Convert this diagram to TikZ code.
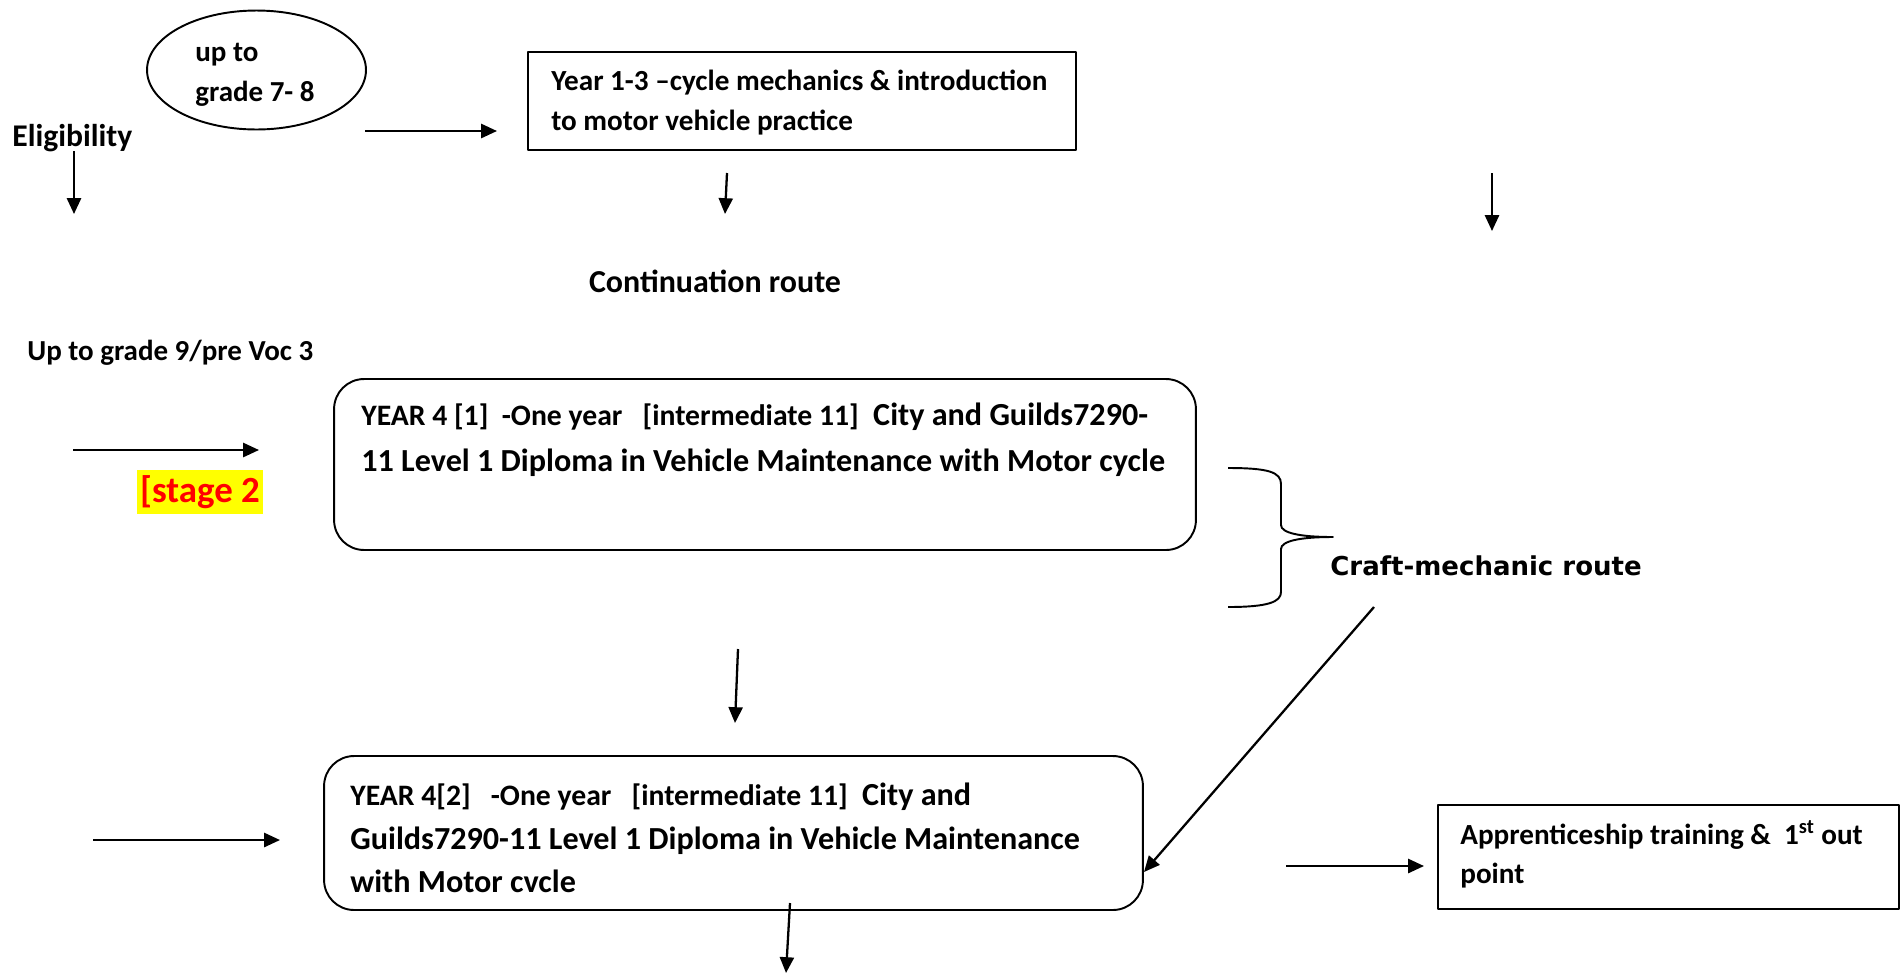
\documentclass[tikz,border=0pt]{standalone}
\usepackage{fontspec}
\setmainfont{Carlito}
\newfontfamily\blackfont{DejaVu Sans}
\usepackage{xcolor}
\usepackage{tikz}
\usetikzlibrary{arrows.meta,shapes.geometric}
\definecolor{ink}{HTML}{000000}
\definecolor{hilite}{HTML}{FFFF00}
\definecolor{alert}{HTML}{FF0000}
\tikzset{
  base/.style={draw=ink, line width=1.1pt, line join=round},
  arr/.style={draw=ink, line width=1.3pt, -{Triangle[length=9pt,width=8pt]}},
  box/.style={base, rectangle, inner sep=0pt},
  rbox/.style={box, rounded corners=0.6cm},
  oval/.style={base, ellipse, inner sep=0pt},
  lab/.style={text=ink, inner sep=0pt, align=left, font=\bfseries\fontsize{16.5}{23}\selectfont},
  tag/.style={fill=hilite, text=alert, inner xsep=2pt, inner ysep=3pt, font=\bfseries\fontsize{21}{24}\selectfont},
  route/.style={text=ink, inner sep=0pt, font=\blackfont\bfseries\fontsize{14.8}{17}\selectfont},
}
\newcommand{\hdr}[1]{{\fontsize{16.9}{26}\selectfont #1}}

\begin{document}
\begin{tikzpicture}[x=0.02cm, y=-0.02cm]
  \useasboundingbox (0,0) rectangle (1900,975);
  \node[oval, minimum width=4.38cm, minimum height=2.38cm] (grade78) at (256.5,70) {};
  \node[lab, anchor=west] (grade78t) at (195,75) {up to\\grade 7- 8};
  \node[lab, anchor=west, font=\bfseries\fontsize{18}{20}\selectfont] (elig) at (12,138) {Eligibility};
  \node[box, minimum width=10.96cm, minimum height=1.96cm] (year13) at (802,101) {};
  \node[lab, anchor=west, font=\bfseries\fontsize{16.6}{22.8}\selectfont] (year13t) at (551,103)
    {Year 1-3 –cycle mechanics \& introduction\\to motor vehicle practice};
  \node[lab, font=\bfseries\fontsize{18.2}{20}\selectfont] (contin) at (715,281) {Continuation route};
  \node[lab, anchor=west] (grade9) at (27,353) {Up to grade 9/pre Voc 3};
  \node[tag] (stage2) at (200,492) {[stage 2};
  \node[rbox, minimum width=17.24cm, minimum height=3.42cm] (year41) at (765,464.5) {};
  \node[lab, anchor=west, font=\bfseries\fontsize{18.3}{26}\selectfont] (year41t) at (361,440)
    {\hdr{YEAR 4 [1]\ \ -One year\ \ \ [intermediate 11]}\ \ City and Guilds7290-\\11 Level 1 Diploma in Vehicle Maintenance with Motor cycle};
  \node[route, anchor=west] (craft) at (1330,566) {Craft-mechanic route};
  \node[rbox, minimum width=16.38cm, minimum height=3.08cm] (year42) at (733.5,833) {};
  \node[lab, anchor=west, font=\bfseries\fontsize{18.3}{24.8}\selectfont] (year42t) at (350,838)
    {\hdr{YEAR 4[2]\ \ \ -One year\ \ \ [intermediate 11]}\ \ City and\\Guilds7290-11 Level 1 Diploma in Vehicle Maintenance\\with Motor cvcle};
  \node[box, minimum width=9.22cm, minimum height=2.08cm] (appr) at (1668.5,857) {};
  \node[lab, anchor=west, font=\bfseries\fontsize{16.6}{22}\selectfont] (apprt) at (1460,854.5)
    {Apprenticeship training \&\ \ 1\textsuperscript{st} out\\point};
  \coordinate (eligTop) at (74,151);
  \coordinate (eligBot) at (74,214);
  \coordinate (toYrA) at (365,131);
  \coordinate (toYrB) at (497,131);
  \coordinate (yrDownA) at (727,173);
  \coordinate (yrDownB) at (725,214);
  \coordinate (rDownA) at (1492,173);
  \coordinate (rDownB) at (1492,231);
  \coordinate (st2A) at (73,450);
  \coordinate (st2B) at (259,450);
  \coordinate (midA) at (738,649);
  \coordinate (midB) at (735,723);
  \coordinate (y42A) at (93,840);
  \coordinate (y42B) at (280,840);
  \coordinate (outA) at (790,903);
  \coordinate (outB) at (786,973);
  \coordinate (apprA) at (1286,866);
  \coordinate (apprB) at (1424,866);
  \coordinate (craftA) at (1374,607);
  \coordinate (craftB) at (1144,872);
  \draw[arr] (eligTop) -- (eligBot);
  \draw[arr] (toYrA) -- (toYrB);
  \draw[arr] (yrDownA) -- (yrDownB);
  \draw[arr] (rDownA) -- (rDownB);
  \draw[arr] (st2A) -- (st2B);
  \draw[arr] (midA) -- (midB);
  \draw[arr] (y42A) -- (y42B);
  \draw[arr] (outA) -- (outB);
  \draw[arr] (apprA) -- (apprB);
  \draw[arr] (craftA) -- (craftB);
  \draw[base] (1228,468) .. controls (1268,468) and (1281,472) .. (1281,484) -- (1281,525)
    .. controls (1281,533) and (1300,537) .. (1333,537)
    .. controls (1300,537) and (1281,541) .. (1281,549) -- (1281,592)
    .. controls (1281,602) and (1268,607) .. (1228,607);
\end{tikzpicture}
\end{document}
